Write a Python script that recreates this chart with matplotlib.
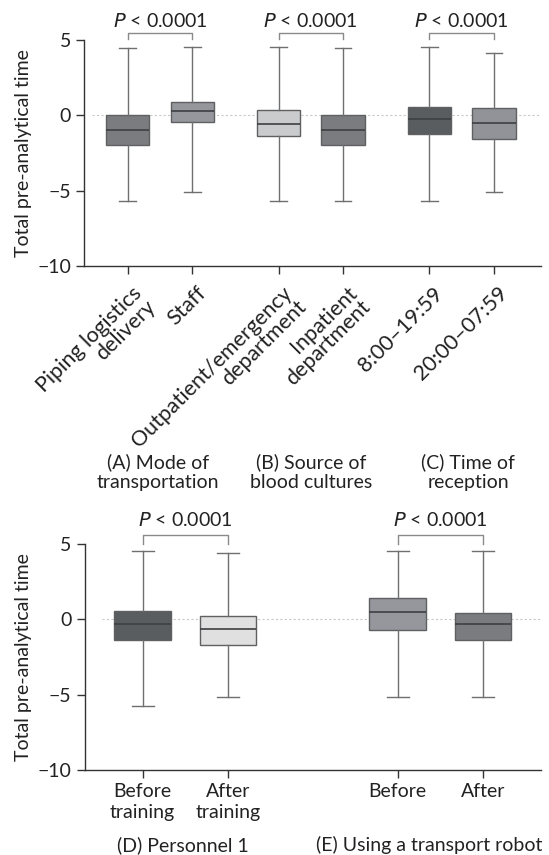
import matplotlib
matplotlib.use("Agg")
import matplotlib.pyplot as plt
import matplotlib.transforms as mtransforms
import numpy as np

plt.rcParams['font.family'] = ['Lato', 'DejaVu Sans']

# ---- Data (top panel) ----
top_labels = ["Piping logistics\ndelivery", "Staff", "Outpatient/emergency\ndepartment",
              "Inpatient\ndepartment", "8:00\u201319:59", "20:00\u201307:59"]
top_wlo = [-5.67, -5.07, -5.67, -5.67, -5.67, -5.07]
top_q1 = [-2.0, -0.42, -1.39, -2.0, -1.23, -1.59]
top_med = [-1.0, 0.26, -0.57, -1.0, -0.22, -0.50]
top_q3 = [0.03, 0.90, 0.33, 0.03, 0.55, 0.49]
top_whi = [4.50, 4.55, 4.55, 4.50, 4.55, 4.15]
top_colors = ["#7b7c80", "#95979d", "#cacbcc", "#7b7c80", "#5a5d5f", "#919398"]
top_groups = ["(A) Mode of\ntransportation", "(B) Source of\nblood cultures", "(C) Time of\nreception"]

# ---- Data (bottom panel) ----
bot_labels = ["Before\ntraining", "After\ntraining", "Before", "After"]
bot_wlo = [-5.73, -5.13, -5.13, -5.13]
bot_q1 = [-1.37, -1.68, -0.71, -1.37]
bot_med = [-0.29, -0.66, 0.49, -0.31]
bot_q3 = [0.58, 0.20, 1.42, 0.44]
bot_whi = [4.56, 4.42, 4.56, 4.56]
bot_colors = ["#5a5d5f", "#e0e0e0", "#95979d", "#7b7c80"]
bot_groups = ["(D) Personnel 1", "(E) Using a transport robot"]

pval = "$\\mathit{P}$ < 0.0001"
FS = 14

W, H = 549, 855
fig = plt.figure(figsize=(W / 100, H / 100), dpi=100)

def ax_px(left, top, right, bottom):
    return fig.add_axes([left / W, 1 - bottom / H, (right - left) / W, (bottom - top) / H])

def draw_boxes(ax, pos, wlo, q1, med, q3, whi, colors, width):
    stats = []
    for i in range(len(pos)):
        stats.append(dict(whislo=wlo[i], q1=q1[i], med=med[i], q3=q3[i], whishi=whi[i], fliers=[]))
    bp = ax.bxp(stats, positions=pos, widths=width, patch_artist=True, showfliers=False,
                boxprops=dict(edgecolor="#5f6062", linewidth=1.0),
                medianprops=dict(color="#3e3f41", linewidth=1.2),
                whiskerprops=dict(color="#6e6f71", linewidth=1.0),
                capprops=dict(color="#6e6f71", linewidth=1.0))
    for patch, c in zip(bp['boxes'], colors):
        patch.set_facecolor(c)
    for j, cap in enumerate(bp['caps']):
        x = pos[j // 2]
        cap.set_xdata([x - 0.13, x + 0.13])
    return bp

def style_ax(ax, zx0, xmax):
    for s in ['top', 'right']:
        ax.spines[s].set_visible(False)
    for s in ['left', 'bottom']:
        ax.spines[s].set_color("#333333")
        ax.spines[s].set_linewidth(1.0)
    ax.set_ylim(-10, 5)
    ax.set_yticks([-10, -5, 0, 5])
    ax.set_yticklabels(["\u221210", "\u22125", "0", "5"])
    ax.tick_params(axis='both', colors="#333333", labelcolor="#222222", labelsize=FS,
                   length=6, width=1.0)
    ax.hlines(0, zx0, xmax, color="#c8c8c8", lw=0.8, ls=(0, (2, 2)), zorder=0)
    ax.set_ylabel("Total pre-analytical time", fontsize=FS, color="#222222", labelpad=4)

def bracket(ax, x1, x2, y, yend, ytext):
    ax.plot([x1, x1, x2, x2], [yend, y, y, yend], color="#8a8a8a", lw=1.0, clip_on=False)
    ax.text((x1 + x2) / 2, ytext, pval, ha='center', va='center', fontsize=FS,
            color="#222222", clip_on=False)

# ---- Top panel ----
ax1 = ax_px(84.3, 40, 541, 266)
tpos = [0, 1, 2.34, 3.34, 4.68, 5.68]
draw_boxes(ax1, tpos, top_wlo, top_q1, top_med, top_q3, top_whi, top_colors, 0.67)
style_ax(ax1, -0.56, 6.41)
ax1.set_xlim(-0.673, 6.41)
ax1.set_xticks(tpos)
ax1.set_xticklabels(top_labels, rotation=45, ha='right', va='top',
                    rotation_mode='anchor', multialignment='right', fontsize=15.5,
                    linespacing=0.95)
offset = mtransforms.ScaledTranslation(0.035, -0.04, fig.dpi_scale_trans)
for lbl in ax1.get_xticklabels():
    lbl.set_transform(lbl.get_transform() + offset)
for i in range(3):
    bracket(ax1, tpos[2 * i], tpos[2 * i + 1], 5.46, 5.06, 6.25)

for cx, txt in zip([158, 311.5, 468], top_groups):
    fig.text(cx / W, 1 - 472 / H, txt, ha='center', va='center', fontsize=FS,
             color="#222222", linespacing=1.15)

# ---- Bottom panel ----
ax2 = ax_px(84.5, 544, 540.5, 770)
bpos = [0, 1, 2.98, 3.98]
draw_boxes(ax2, bpos, bot_wlo, bot_q1, bot_med, bot_q3, bot_whi, bot_colors, 0.66)
style_ax(ax2, -0.47, 4.65)
ax2.set_xlim(-0.68, 4.65)
ax2.set_xticks(bpos)
ax2.set_xticklabels(bot_labels, fontsize=FS, linespacing=1.25)
bracket(ax2, bpos[0], bpos[1], 5.62, 4.98, 6.6)
bracket(ax2, bpos[2], bpos[3], 5.62, 4.98, 6.6)

for cx, txt in zip([182.7, 428.7], bot_groups):
    fig.text(cx / W, 1 - 845 / H, txt, ha='center', va='center', fontsize=FS,
             color="#222222")

fig.savefig("out.png", dpi=100)
